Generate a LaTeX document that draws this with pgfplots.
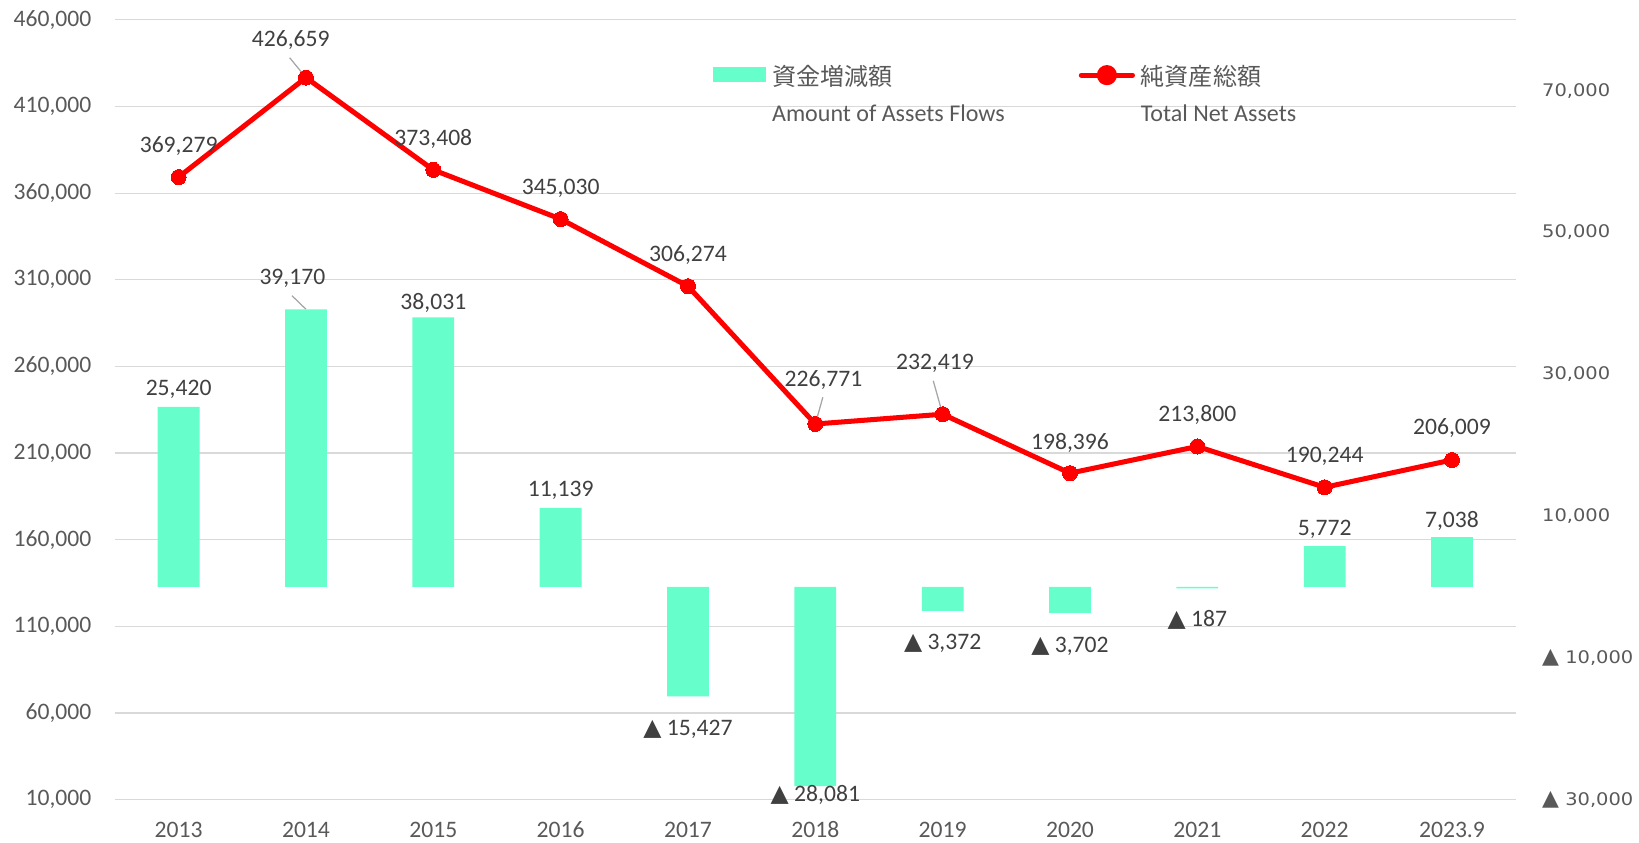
\documentclass[border=0pt]{standalone}
\usepackage{pgfplots}
\usepackage{pgfplotstable}
\pgfplotsset{compat=1.18}
\usepackage{fontspec}
\setmainfont{Carlito}
\newfontfamily\jp{Noto Sans CJK JP}
\newfontfamily\dv{DejaVu Sans}
\newfontfamily\dvs[FakeStretch=1.12]{DejaVu Sans}
\definecolor{barc}{RGB}{102,255,204}
\definecolor{linec}{RGB}{255,0,0}
\definecolor{gridc}{RGB}{217,217,217}
\definecolor{tickc}{RGB}{89,89,89}
\definecolor{lblc}{RGB}{64,64,64}
\definecolor{leadc}{RGB}{166,166,166}
\protected\def\tri{{\dv ▲}}
\protected\def\trib{{\dv\fontsize{10.5}{12}\selectfont ▲}}

\pgfplotstableread{
x y dx dy lab
0 369279 0 15 369,279
1 426659 -7.3 17.8 426,659
2 373408 0 15 373,408
3 345030 0 14.5 345,030
4 306274 0 15 306,274
5 226771 3.9 20.8 226,771
6 232419 -3.7 24.4 232,419
7 198396 0 14.5 198,396
8 213800 0 15 213,800
9 190244 0 14.8 190,244
10 206009 0 15.3 206,009
}\linedata

\pgfplotstableread{
x y dx dy lab
0 25420 0 8.5 25,420
1 39170 -6.5 14.8 39,170
2 38031 0 6.7 38,031
3 11139 0 8.5 11,139
4 -15427 0 -15.8 {\tri\ 15,427}
5 -28081 0 -4.2 {\tri\ 28,081}
6 -3372 0 -15.5 {\tri\ 3,372}
7 -3702 0 -16 {\tri\ 3,702}
8 -187 0 -15 {\tri\ 187}
9 5772 0 8 5,772
10 7038 0 7.5 7,038
}\bardata

\pgfplotsset{
  base/.style={
    scale only axis, width=670pt, height=373pt,
    xmin=-0.5, xmax=10.5,
    axis line style={draw=none},
    major tick length=0pt,
    clip=false,
  },
  lbl/.style={
    nodes near coords,
    point meta=explicit symbolic,
    visualization depends on={\thisrow{dx} \as \myDX},
    visualization depends on={\thisrow{dy} \as \myDY},
    nodes near coords style={anchor=center, inner sep=0pt, xshift=\myDX pt, yshift=\myDY pt,
      font=\fontsize{11.3}{13}\selectfont, text=lblc},
  },
  lgd/.style={
    legend style={at={(#1,0.9485)}, anchor=north west, draw=none, fill=none,
      inner sep=0pt, outer sep=0pt, column sep=2.8pt,
      font=\fontsize{11.5}{17.2}\selectfont, text=tickc,
      nodes={inner sep=0pt}, cells={anchor=base west}},
  },
}

\begin{document}
\begin{tikzpicture}
% left axis: total net assets
\begin{axis}[base,
  ymin=10000, ymax=460000,
  ytick={10000,60000,110000,160000,210000,260000,310000,360000,410000,460000},
  yticklabels={{10,000},{60,000},{110,000},{160,000},{210,000},{260,000},{310,000},{360,000},{410,000},{460,000}},
  xtick={0,...,10},
  xticklabels={2013,2014,2015,2016,2017,2018,2019,2020,2021,2022,2023.9},
  ymajorgrids, grid style={draw=gridc, line width=0.55pt},
  tick label style={font=\fontsize{11.3}{13}\selectfont, text=tickc},
  yticklabel style={anchor=east, inner sep=0pt, xshift=-11.1pt},
  xticklabel style={anchor=center, inner sep=0pt, yshift=-14.5pt},
  lgd=0.6881,
]
\draw[leadc, line width=0.6pt] (axis cs:1,426659) ++(-7.8pt,9.5pt) -- (axis cs:1,426659);
\draw[leadc, line width=0.6pt] (axis cs:5,226771) ++(3.6pt,12.8pt) -- (axis cs:5,226771);
\draw[leadc, line width=0.6pt] (axis cs:6,232419) ++(-4.5pt,16pt) -- (axis cs:6,232419);
\addplot[linec, line width=2.4pt, line join=round, mark=*, mark size=3.6pt,
  mark options={fill=linec, draw=linec, line width=0pt}, lbl,
  legend image code/.code={
    \draw[linec, line width=2.4pt, line cap=round] (1.25pt,4.8pt) -- (25.75pt,4.8pt);
    \fill[linec] (13.5pt,4.8pt) circle (3.6pt);}
  ] table[x=x, y=y, meta=lab] {\linedata};
\addlegendentry{\begin{tabular}[t]{@{}l@{}}\jp 純資産総額\\Total Net Assets\end{tabular}}
\end{axis}
% right axis: asset flows
\begin{axis}[base,
  ymin=-30000, ymax=80000,
  ytick={-30000,-10000,10000,30000,50000,70000},
  yticklabels={{\trib\ 30,000},{\trib\ 10,000},{10,000},{30,000},{50,000},{70,000}},
  yticklabel pos=right,
  xtick=\empty,
  yticklabel style={anchor=west, inner sep=0pt, xshift=12.5pt, font=\dvs\fontsize{8.3}{10}\selectfont, text=tickc},
  ybar, bar width=20pt,
  lgd=0.4269,
]
\draw[leadc, line width=0.6pt] (axis cs:1,39170) ++(-6.7pt,6.5pt) -- (axis cs:1,39170);
\addplot[fill=barc, draw=none, bar shift=0pt, lbl,
  legend image code/.code={\fill[barc] (0pt,1.65pt) rectangle (25.5pt,8.5pt);}
  ] table[x=x, y=y, meta=lab] {\bardata};
\addlegendentry{\begin{tabular}[t]{@{}l@{}}\jp 資金増減額\\Amount of Assets Flows\end{tabular}}
\end{axis}
\pgfresetboundingbox
\path[use as bounding box] (-55pt,-20.5pt) rectangle (729pt,382.5pt);
\end{tikzpicture}
\end{document}
